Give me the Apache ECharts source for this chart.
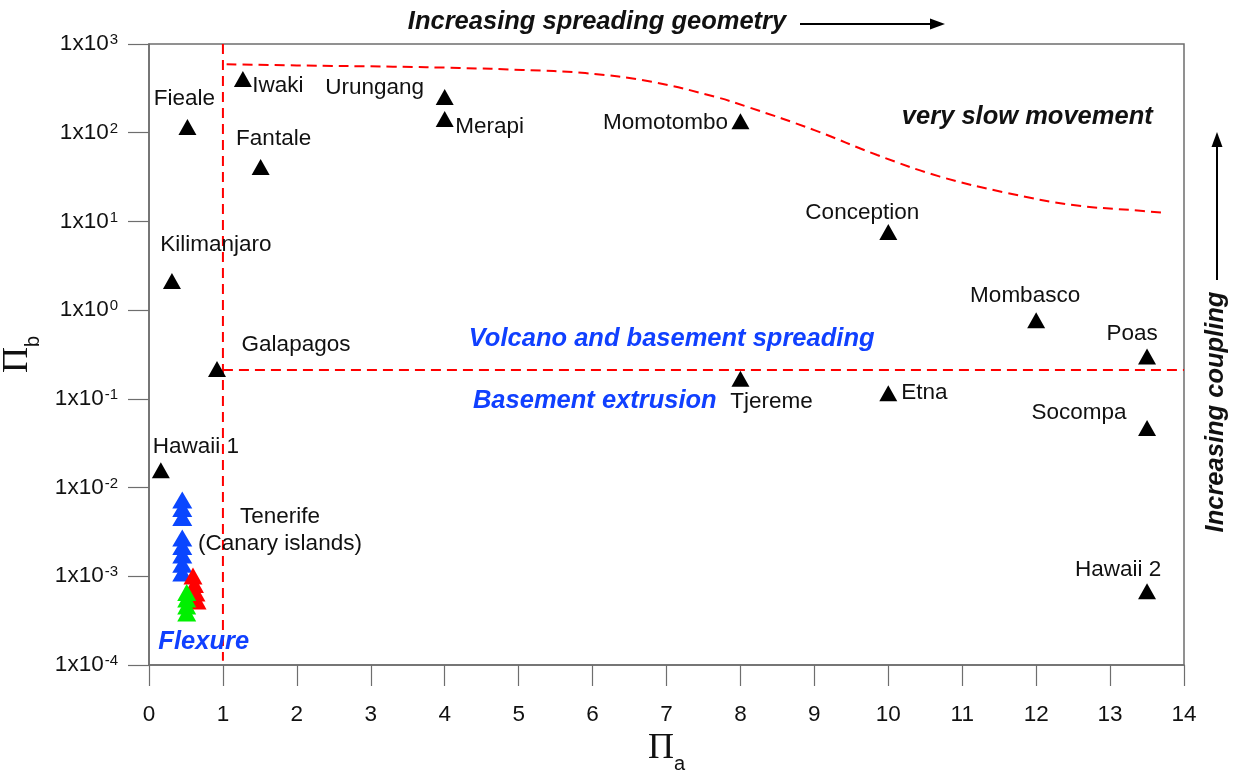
<!DOCTYPE html>
<html><head><meta charset="utf-8">
<script src="https://cdn.jsdelivr.net/npm/echarts@6/dist/echarts.min.js"></script>
<style>html,body{margin:0;padding:0;background:#fff}#c{width:1236px;height:770px}</style>
</head><body><div id="c"></div>
<script>
// ---- data ----
const volcanoNames = ['Fieale','Iwaki','Fantale','Urungang','Merapi','Momotombo','Conception','Kilimanjaro','Mombasco','Poas','Galapagos','Tjereme','Etna','Socompa','Hawaii 1','Hawaii 2'];
const volcanoPiA = [0.52, 1.27, 1.51, 4.0, 4.0, 8.0, 10.0, 0.31, 12.0, 13.5, 0.92, 8.0, 10.0, 13.5, 0.16, 13.5];
const volcanoPiB = [116, 403, 41, 253, 143, 135, 7.6, 2.13, 0.77, 0.30, 0.217, 0.168, 0.116, 0.047, 0.0157, 0.00068];

const tenerifeBluePiA = [0.45, 0.45, 0.45, 0.45, 0.45, 0.45, 0.45, 0.45];
const tenerifeBluePiB = [0.00724, 0.00581, 0.00459, 0.00270, 0.00216, 0.00174, 0.00137, 0.00109];
const tenerifeRedPiA = [0.595, 0.615, 0.635, 0.65];
const tenerifeRedPiB = [0.00101, 0.000807, 0.000648, 0.000526];
const tenerifeGreenPiA = [0.51, 0.51, 0.51, 0.51];
const tenerifeGreenPiB = [0.000656, 0.000554, 0.000462, 0.000386];

const vLinePiA = [1, 1];
const vLinePiB = [1000, 0.000112];
const hLinePiA = [1, 14];
const hLinePiB = [0.211, 0.211];
const curvePiA = [1.05, 2.0, 3.3, 4.2, 5.05, 5.9, 6.8, 7.65, 8.1, 9.0, 9.85, 10.7, 11.6, 12.5, 13.3, 13.75];
const curvePiB = [590, 573, 555, 537, 510, 470, 375, 255, 195, 107, 56, 32, 21, 15.3, 13.4, 12.5];

const annoTexts = ['very slow movement', 'Volcano and basement spreading', 'Basement extrusion', 'Flexure', 'Tenerife\n(Canary islands)'];
const annoPiA = [11.88, 7.07, 6.03, 0.74, 1.772];
const annoPiB = [150, 0.473, 0.0947, 0.000184, 0.00332];

const xTicks = [0,1,2,3,4,5,6,7,8,9,10,11,12,13,14];
const yTickExponents = [-4,-3,-2,-1,0,1,2,3];

// ---- styling (kept separate from data) ----
const labelOffsets = [[-3,-28],[35,7],[13,-28],[-70,-9],[45,8],[-75,2],[-26,-19],[44,-36],[-11,-24],[-15,-23],[79,-24],[31,23],[36,0],[-68,-15],[35,-23],[-29,-21]];
const annoStyles = [
  {color:'#111', fontWeight:'bold', fontStyle:'italic', fontSize:25.5},
  {color:'#1040ff', fontWeight:'bold', fontStyle:'italic', fontSize:25.5},
  {color:'#1040ff', fontWeight:'bold', fontStyle:'italic', fontSize:25.5},
  {color:'#1040ff', fontWeight:'bold', fontStyle:'italic', fontSize:25.5},
  {color:'#111', fontWeight:'normal', fontStyle:'normal', fontSize:22.5, lineHeight:27}
];
const FONT = 'Liberation Sans';
const zip = (a, b) => a.map((v, i) => [v, b[i]]);
const dashed = {color:'#ff0000', width:2, type:[10,6]};

const chart = echarts.init(document.getElementById('c'), null, {renderer:'canvas'});
chart.setOption({
  animation: false,
  backgroundColor: '#fff',
  grid: {left:149, right:52, top:44, bottom:105, outerBoundsMode:'none', containLabel:false, show:true, borderColor:'#6e6e6e', borderWidth:1.5, backgroundColor:'transparent'},
  xAxis: {
    type:'value', min:xTicks[0], max:xTicks[xTicks.length-1], interval:1,
    name:'{p|Π}{s|a}', nameLocation:'middle', nameGap:60,
    nameTextStyle:{rich:{p:{fontFamily:'Liberation Serif', fontSize:36, color:'#111'}, s:{fontFamily:FONT, fontSize:20, color:'#111', verticalAlign:'bottom', padding:[0,0,-8,0]}}},
    axisLine:{show:true, lineStyle:{color:'#6e6e6e', width:1.5}},
    axisTick:{show:true, inside:false, length:21, lineStyle:{color:'#6e6e6e', width:1.2}},
    axisLabel:{margin:38, fontFamily:FONT, fontSize:22.5, color:'#111', formatter:v => String(xTicks[xTicks.indexOf(v)])},
    splitLine:{show:false}
  },
  yAxis: {
    type:'log', logBase:10, min:1e-4, max:1e3, interval:1,
    name:'{p|Π}{s|b}', nameLocation:'middle', nameGap:104, nameRotate:90,
    nameTextStyle:{rich:{p:{fontFamily:'Liberation Serif', fontSize:36, color:'#111'}, s:{fontFamily:FONT, fontSize:20, color:'#111', verticalAlign:'bottom', padding:[0,0,-8,0]}}},
    axisLine:{show:true, lineStyle:{color:'#6e6e6e', width:1.5}},
    axisTick:{show:true, inside:false, length:21, lineStyle:{color:'#6e6e6e', width:1.2}},
    minorTick:{show:false},
    axisLabel:{margin:31, color:'#111',
      formatter: v => { const e = Math.round(Math.log10(v)); const k = yTickExponents.indexOf(e); return '{a|1x10}{s|' + yTickExponents[k] + '}'; },
      rich:{a:{fontFamily:FONT, fontSize:22.5, color:'#111'}, s:{fontFamily:FONT, fontSize:15, color:'#111', verticalAlign:'top', padding:[0,0,4,1]}}
    },
    splitLine:{show:false}
  },
  series: [
    {type:'line', data:zip(vLinePiA, vLinePiB), symbol:'none', lineStyle:dashed, silent:true, z:1},
    {type:'line', data:zip(hLinePiA, hLinePiB), symbol:'none', lineStyle:dashed, silent:true, z:1},
    {type:'line', data:zip(curvePiA, curvePiB), symbol:'none', smooth:0.4, lineStyle:dashed, silent:true, z:1},
    {type:'scatter', data:zip(tenerifeBluePiA, tenerifeBluePiB), symbol:'triangle', symbolSize:[20,17], itemStyle:{color:'#0a46ff', opacity:1}, z:3},
    {type:'scatter', data:zip(tenerifeRedPiA, tenerifeRedPiB), symbol:'triangle', symbolSize:[19,17], itemStyle:{color:'#ff0000', opacity:1}, z:4},
    {type:'scatter', data:zip(tenerifeGreenPiA, tenerifeGreenPiB), symbol:'triangle', symbolSize:[19,17], itemStyle:{color:'#00f000', opacity:1}, z:5},
    {type:'scatter', symbol:'triangle', symbolSize:[18,16], itemStyle:{color:'#000', opacity:1}, z:6,
      data: volcanoNames.map((n, i) => ({name:n, value:[volcanoPiA[i], volcanoPiB[i]],
        label:{show:true, position:'inside', offset:labelOffsets[i], formatter:n, fontFamily:FONT, fontSize:22.5, color:'#111', opacity:1}}))
    },
    {type:'scatter', symbol:'circle', symbolSize:0, z:7, silent:true, itemStyle:{opacity:1},
      data: annoTexts.map((t, i) => ({name:t, value:[annoPiA[i], annoPiB[i]],
        label:Object.assign({show:true, position:'inside', formatter:t, fontFamily:FONT, align:'center', opacity:1}, annoStyles[i])}))
    }
  ],
  graphic: [
    {type:'text', x:597, y:22, style:{text:'Increasing spreading geometry', x:0, y:0, align:'center', verticalAlign:'middle', font:'italic bold 25.5px "Liberation Sans"', fill:'#111'}},
    {type:'line', shape:{x1:800, y1:24, x2:932, y2:24}, style:{stroke:'#000', lineWidth:2}},
    {type:'polygon', shape:{points:[[945,24],[930,18.5],[930,29.5]]}, style:{fill:'#000'}},
    {type:'text', x:1216, y:412, rotation:Math.PI/2, style:{text:'Increasing coupling', x:0, y:0, align:'center', verticalAlign:'middle', font:'italic bold 25.5px "Liberation Sans"', fill:'#111'}},
    {type:'line', shape:{x1:1217, y1:280, x2:1217, y2:145}, style:{stroke:'#000', lineWidth:2}},
    {type:'polygon', shape:{points:[[1217,132],[1211.5,147],[1222.5,147]]}, style:{fill:'#000'}}
  ]
});
</script></body></html>
